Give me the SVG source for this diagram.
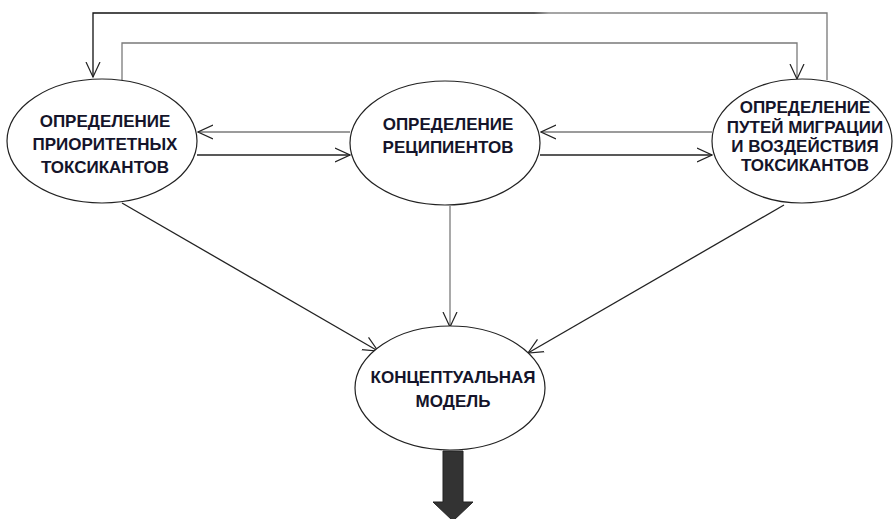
<svg xmlns="http://www.w3.org/2000/svg" width="894" height="519" viewBox="0 0 894 519">
<style>
.node ellipse{fill:#fff;stroke:#222;stroke-width:1.2}
.node text{font-family:"Liberation Sans",Arial,sans-serif;font-weight:bold;font-size:17px;fill:#14142a;text-anchor:middle}
.c{fill:none;stroke-width:1.3}
.dark{stroke:#222}
.gray{stroke:#7a7a7a}
</style>
<defs>
<marker id="ah2" viewBox="0 0 16 16" refX="15" refY="8" markerWidth="16" markerHeight="16" markerUnits="userSpaceOnUse" orient="auto">
<path d="M0,1 L15,8 L0,15" fill="none" stroke="#222" stroke-width="1.2"/>
</marker>
<linearGradient id="g1" gradientUnits="userSpaceOnUse" x1="90" y1="0" x2="830" y2="0">
<stop offset="0" stop-color="#111"/><stop offset="0.6" stop-color="#222"/><stop offset="0.62" stop-color="#888"/><stop offset="1" stop-color="#777"/>
</linearGradient>
</defs>
<g id="connectors">
<path class="c" stroke="url(#g1)" d="M827,80 V13 H93 V77" marker-end="url(#ah2)"/>
<path class="c gray" d="M122,80 V43 H797 V79" marker-end="url(#ah2)"/>
<path class="c gray" d="M350,132 H198" marker-end="url(#ah2)"/>
<path class="c dark" d="M197,155 H350" marker-end="url(#ah2)"/>
<path class="c gray" d="M712,132 H541" marker-end="url(#ah2)"/>
<path class="c dark" d="M540,155 H712" marker-end="url(#ah2)"/>
<path class="c dark" d="M122,203 L378,351" marker-end="url(#ah2)"/>
<path class="c gray" d="M450,206 V327" marker-end="url(#ah2)"/>
<path class="c dark" d="M784,205 L528,353" marker-end="url(#ah2)"/>
<path d="M443,451 H463 V502 H473 L453,521 L433,502 H443 Z" fill="#333" stroke="#222" stroke-width="1"/>
</g>
<g id="n1" class="node">
<ellipse cx="102" cy="141" rx="95" ry="62"/>
<text x="105" y="127">ОПРЕДЕЛЕНИЕ</text>
<text x="105" y="150">ПРИОРИТЕТНЫХ</text>
<text x="105" y="173">ТОКСИКАНТОВ</text>
</g>
<g id="n2" class="node">
<ellipse cx="445" cy="143" rx="95" ry="62"/>
<text x="448" y="130">ОПРЕДЕЛЕНИЕ</text>
<text x="448" y="153">РЕЦИПИЕНТОВ</text>
</g>
<g id="n3" class="node">
<ellipse cx="802" cy="141" rx="90" ry="62"/>
<text x="805" y="113">ОПРЕДЕЛЕНИЕ</text>
<text x="805" y="133">ПУТЕЙ МИГРАЦИИ</text>
<text x="805" y="152">И ВОЗДЕЙСТВИЯ</text>
<text x="805" y="171">ТОКСИКАНТОВ</text>
</g>
<g id="n4" class="node">
<ellipse cx="450" cy="388" rx="95" ry="62"/>
<text x="453" y="383">КОНЦЕПТУАЛЬНАЯ</text>
<text x="453" y="407">МОДЕЛЬ</text>
</g>
</svg>
